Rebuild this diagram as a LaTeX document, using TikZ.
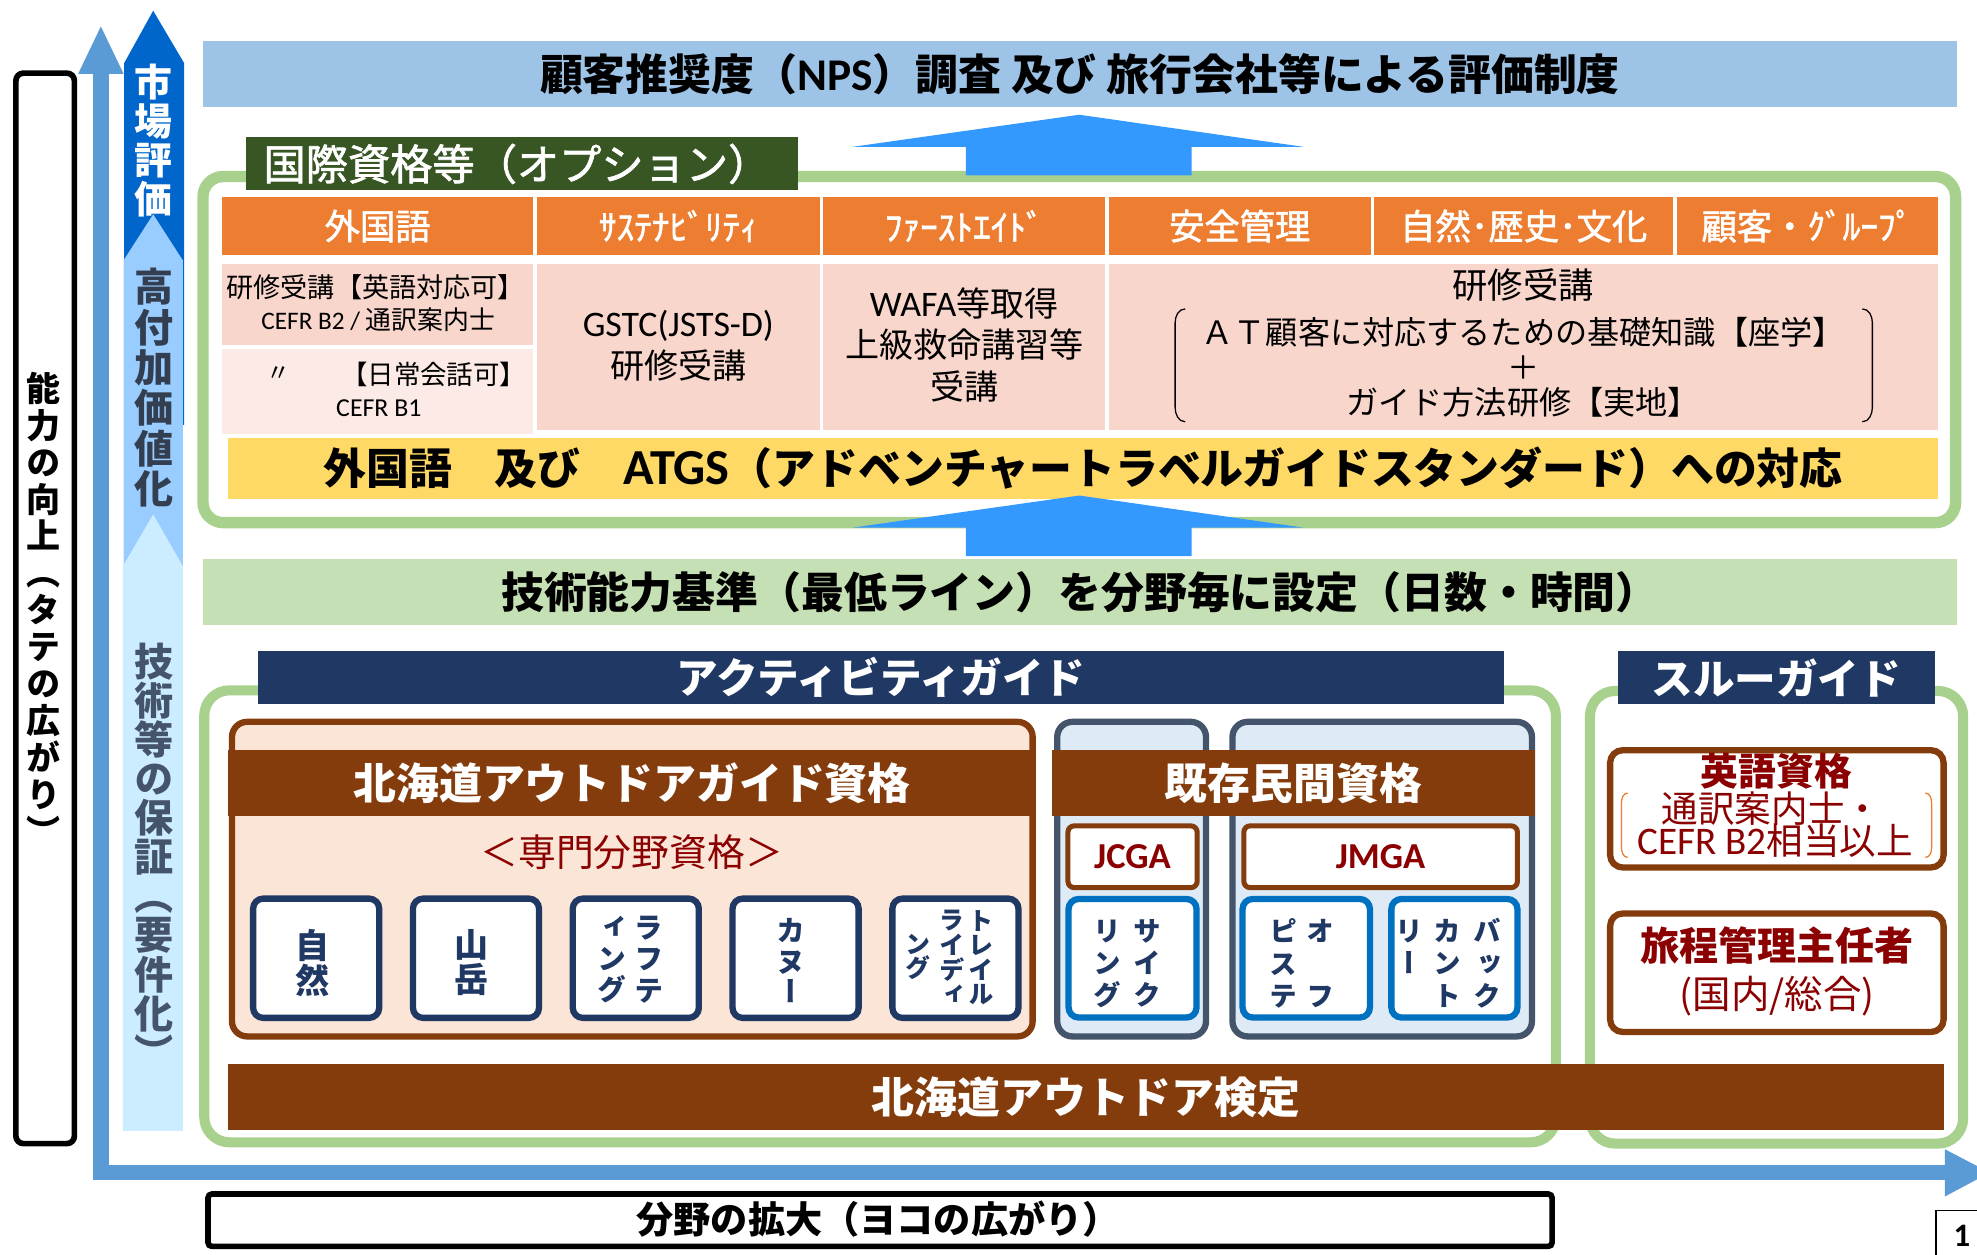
\documentclass[tikz,border=0pt]{standalone}
\usepackage{fontspec}
\setmainfont{Noto Sans CJK JP}
\newfontfamily\jpv[RawFeature=+vert]{Noto Sans CJK JP}
\newfontfamily\jpm[FakeBold=1.6]{Noto Sans CJK JP}
\newfontfamily\lat{Carlito}
\lineskiplimit=-100pt
\newcommand\sz[2]{\fontsize{#1}{#2}\selectfont}
\newcommand\st{\rule[-0.12em]{0pt}{0.88em}}
\definecolor{titleblue}{HTML}{9DC3E6}
\definecolor{arrowblue}{HTML}{3399FF}
\definecolor{axisblue}{HTML}{5B9BD5}
\definecolor{gborder}{HTML}{A9D18E}
\definecolor{dgreen}{HTML}{375623}
\definecolor{orangeh}{HTML}{ED7D31}
\definecolor{pinkA}{HTML}{F8D6CC}
\definecolor{pinkB}{HTML}{FBEAE5}
\definecolor{yellowb}{HTML}{FFD966}
\definecolor{lgreen}{HTML}{C5E0B4}
\definecolor{navy}{HTML}{203864}
\definecolor{brownb}{HTML}{843C0C}
\definecolor{peach}{HTML}{FBE5D6}
\definecolor{pblue}{HTML}{DEEBF7}
\definecolor{slate}{HTML}{44546A}
\definecolor{boxblue}{HTML}{0070C0}
\definecolor{dred}{HTML}{8B0000}
\definecolor{mkblue}{HTML}{0066CC}
\definecolor{midblue}{HTML}{99CCFF}
\definecolor{paleblue}{HTML}{CCECFF}
\definecolor{vtext}{HTML}{333F50}
\tikzset{
  box/.style={inner sep=0pt, outer sep=0pt},
  cell/.style={box, draw=none, fill=#1},
  txt/.style={inner sep=0pt, outer sep=0pt, align=center},
  gbox/.style={box, draw=gborder, fill=white, rounded corners=#1},
  hcell/.style={cell=orangeh, minimum height=45.5pt, text=white, font=\jpm\sz{28}{28}},
  sbox/.style={box, draw=navy, fill=white, line width=5pt, rounded corners=8pt, minimum width=100pt, minimum height=94.6pt},
  cbox/.style={box, draw=boxblue, fill=white, line width=5pt, rounded corners=8pt, minimum height=94pt},
  stxt/.style 2 args={txt, text=navy, font=\jpv\bfseries\sz{#1}{#2}},
  labbox/.style={box, draw=brownb, fill=white, line width=4pt, rounded corners=5pt, minimum height=49pt, text=dred, font=\lat\bfseries\sz{29}{29}},
  thbox/.style={box, draw=brownb, fill=white, line width=5pt, rounded corners=10pt, minimum width=264.5pt},
  blockarrow/.style={fill=arrowblue},
}
\begin{document}
\begin{tikzpicture}[x=1pt,y=-1pt]
\useasboundingbox (0,0) rectangle (1568,995);
\fill[white] (0,0) rectangle (1568,995);

% left vertical caption box
\node[box, draw=black, line width=4.5pt, rounded corners=6pt, minimum width=46.4pt, minimum height=849pt] (vbox) at (35.8,482.5) {};
\node[txt, font=\jpv\bfseries\sz{27}{29.3}] (vtxt) at (34.5,484) {\st 能\\力\\の\\向\\上\\（\\タ\\テ\\の\\広\\が\\り\\）\st};

% axes
\draw[axisblue, line width=12.5pt, line join=miter] (80,58) -- (80,930) -- (1545,930);
\fill[axisblue] (62,58.5) -- (80,21) -- (98,58.5) -- cycle;
\fill[axisblue] (1542.5,911.5) -- (1578,930) -- (1542.5,949) -- cycle;

% stacked vertical arrows
\fill[mkblue] (98.5,50) -- (121.5,8.5) -- (146,50) -- (146,337) -- (98.5,337) -- cycle;
\fill[midblue] (98,206.5) -- (121.5,170) -- (145,206.5) -- (145,460) -- (98,460) -- cycle;
\fill[paleblue] (97.5,449) -- (121.5,408) -- (145,449) -- (145,897) -- (97.5,897) -- cycle;
\node[txt, text=white, font=\jpv\bfseries\sz{30}{31}] (mkt) at (122,112) {\st 市\\場\\評\\価\st};
\node[txt, text=vtext, font=\jpv\bfseries\sz{31}{32}] (hva) at (122,308) {\st 高\\付\\加\\価\\値\\化\st};
\node[txt, text=slate, font=\jpv\bfseries\sz{31}{31}] (gua) at (122,680) {\st 技\\術\\等\\の\\保\\証\\（\\要\\件\\化\\）\st};

% title bar
\node[cell=titleblue, minimum width=1391pt, minimum height=52.5pt, font=\bfseries\sz{34}{34}] (title) at (856.5,58.75) {顧客推奨度（{\lat\sz{36}{36}NPS}）調査 及び 旅行会社等による評価制度};

% option box
\node[gbox=16pt, line width=9pt, minimum width=1390pt, minimum height=274.5pt] (optbox) at (856,277.25) {};
\node[cell=dgreen, minimum width=438pt, minimum height=42.5pt] (optlab) at (414,129.75) {};
\node[txt, anchor=west, text=white, font=\jpm\sz{33.5}{33.5}] (optlabt) at (209,130) {国際資格等（オプション）};

% header cells
\node[hcell, minimum width=247pt] (h1) at (299.5,179.25) {外国語};
\node[hcell, minimum width=224pt] (h2) at (538,179.25) {ｻｽﾃﾅﾋﾞﾘﾃｨ};
\node[hcell, minimum width=223.5pt] (h3) at (764.75,179.25) {ﾌｧｰｽﾄｴｲﾄﾞ};
\node[hcell, minimum width=207.5pt] (h4) at (983.25,179.25) {安全管理};
\node[hcell, minimum width=237pt] (h5) at (1208.5,179.25) {自然･歴史･文化};
\node[hcell, minimum width=207pt] (h6) at (1433.5,179.25) {顧客・ｸﾞﾙｰﾌﾟ};

% body cells
\node[cell=pinkA, minimum width=247pt, minimum height=65pt] (p1a) at (299.5,241.5) {};
\node[cell=pinkB, minimum width=247pt, minimum height=67.5pt] (p1b) at (299.5,310.25) {};
\node[cell=pinkA, minimum width=224pt, minimum height=132pt] (p2) at (538,275) {};
\node[cell=pinkA, minimum width=223.5pt, minimum height=132pt] (p3) at (764.75,275) {};
\node[cell=pinkA, minimum width=657.5pt, minimum height=132pt] (p4) at (1208.25,275) {};

\node[txt, font=\sz{21.5}{21.5}] (t1a) at (298,227.5) {研修受講【英語対応可】};
\node[txt, font=\sz{20.5}{20.5}] (t1b) at (300,253.5) {{\lat\sz{20}{20}CEFR B2 / }通訳案内士};
\node[txt, font=\sz{19}{19}] (t1c) at (221,297) {〃};
\node[txt, font=\sz{21}{21}] (t1d) at (344,297) {【日常会話可】};
\node[txt, font=\lat\sz{20.5}{20.5}] (t1e) at (300.5,324) {CEFR B1};
\node[txt, font=\sz{27}{33.3}] (t2) at (538,274.5) {{\lat\sz{28.5}{33.3}GSTC(JSTS-D)}\\研修受講};
\node[txt, font=\sz{27}{33}] (t3) at (764.75,273.5) {{\lat\sz{28.5}{33}WAFA}等取得\\上級救命講習等\\受講};
\node[txt, font=\sz{28}{28}] (t4a) at (1208,226.5) {研修受講};
\node[txt, font=\sz{25.5}{27.8}] (t4b) at (1208,291) {ＡＴ顧客に対応するための基礎知識【座学】\\＋\\ガイド方法研修【実地】};
\draw[line width=1pt] (940,245) to[out=180,in=90] (932,256) -- (932,323) to[out=-90,in=180] (940,334.5);
\draw[line width=1pt] (1477,245) to[out=0,in=90] (1485,256) -- (1485,323) to[out=-90,in=0] (1477,334.5);

% yellow bar
\node[cell=yellowb, minimum width=1356pt, minimum height=49pt, font=\bfseries\sz{34}{34}] (ybar) at (859,371.5) {外国語　及び　{\lat\sz{40}{40}ATGS}（アドベンチャートラベルガイドスタンダード）への対応};

% block arrows
\fill[blockarrow] (766,139) -- (766,116.5) -- (676,116.5) -- (856,91) -- (1034,116.5) -- (945,116.5) -- (945,139) -- cycle;
\fill[blockarrow] (766,441) -- (766,418.5) -- (676,418.5) -- (856,393) -- (1034,418.5) -- (945,418.5) -- (945,441) -- cycle;

% standard bar
\node[cell=lgreen, minimum width=1391pt, minimum height=52pt, font=\bfseries\sz{34}{34}] (lbar) at (856.5,469.5) {技術能力基準（最低ライン）を分野毎に設定（日数・時間）};

% bottom containers
\node[gbox=20pt, line width=8pt, minimum width=1072pt, minimum height=358.5pt] (actbox) at (698,726.75) {};
\node[gbox=20pt, line width=8pt, minimum width=296pt, minimum height=359pt] (thrbox) at (1409,727.5) {};
\node[cell=navy, minimum width=987.6pt, minimum height=42pt, text=white, font=\bfseries\sz{33}{33}] (actlab) at (698.8,537.5) {アクティビティガイド};
\node[cell=navy, minimum width=251.5pt, minimum height=42pt, text=white, font=\bfseries\sz{33}{33}] (thrlab) at (1408.75,537.5) {スルーガイド};

\node[box, draw=brownb, fill=peach, line width=5pt, rounded corners=12pt, minimum width=635pt, minimum height=249.5pt] (hgbox) at (501.5,697.25) {};
\node[box, draw=slate, fill=pblue, line width=5pt, rounded corners=12pt, minimum width=118pt, minimum height=249.5pt] (jcbox) at (897.5,697.25) {};
\node[box, draw=slate, fill=pblue, line width=5pt, rounded corners=12pt, minimum width=237.5pt, minimum height=249.5pt] (jmbox) at (1096.25,697.25) {};
\node[cell=brownb, minimum width=640.6pt, minimum height=52pt, text=white, font=\bfseries\sz{34}{34}] (hghead) at (501.3,621) {北海道アウトドアガイド資格};
\node[cell=brownb, minimum width=383.5pt, minimum height=52pt, text=white, font=\bfseries\sz{34}{34}] (exhead) at (1025.75,621) {既存民間資格};
\node[txt, text=dred, font=\sz{30}{30}] (senmon) at (501,676) {＜専門分野資格＞};

% specialist boxes
\node[sbox] (s1) at (250.75,760) {};
\node[sbox] (s2) at (377.5,760) {};
\node[sbox] (s3) at (504.25,760) {};
\node[sbox] (s4) at (631,760) {};
\node[sbox] (s5) at (757.75,760) {};
\node[stxt={27}{28}] (s1t) at (247.5,764) {\st 自\\然\st};
\node[stxt={27}{28}] (s2t) at (374,764) {\st 山\\岳\st};
\node[stxt={23}{25}] (s3r) at (515,761.5) {\st ラ\\フ\\テ\st};
\node[stxt={23}{25}] (s3l) at (485,761.5) {\st ィ\\ン\\グ\st};
\node[stxt={23}{24}] (s4t) at (627,763.3) {\st カ\\ヌ\\ー\st};
\node[stxt={20}{19.5}] (s5r) at (778.5,760.25) {\st ト\\レ\\イ\\ル\st};
\node[stxt={20}{19.5}] (s5m) at (755,760.25) {\st ラ\\イ\\デ\\ィ\st};
\node[stxt={20}{19.5}] (s5l) at (728,759.5) {\st ン\\グ\st};

% private qualification boxes
\node[labbox, minimum width=102.5pt] (jcga) at (898.25,679.5) {JCGA};
\node[labbox, minimum width=217pt] (jmga) at (1095,679.5) {JMGA};
\node[cbox, minimum width=101.5pt] (cyc) at (898.25,760) {};
\node[cbox, minimum width=101pt] (opi) at (1036,760) {};
\node[cbox, minimum width=100pt] (bcn) at (1153.5,760) {};
\node[stxt={22}{25.5}] (cycr) at (910,764.7) {\st サ\\イ\\ク\st};
\node[stxt={22}{25.5}] (cycl) at (878,764.7) {\st リ\\ン\\グ\st};
\node[stxt={22}{25.75}] (opir) at (1047,764.8) {\st オ\\\mbox{}\\フ\st};
\node[stxt={22}{25.75}] (opil) at (1017.5,764.8) {\st ピ\\ス\\テ\st};
\node[stxt={22}{25.75}] (bcnr) at (1180,764.8) {\st バ\\ッ\\ク\st};
\node[stxt={22}{25.75}] (bcnm) at (1148,764.8) {\st カ\\ン\\ト\st};
\node[stxt={22}{25.75}] (bcnl) at (1118,752) {\st リ\\ー\st};

% kentei bar
\node[cell=brownb, minimum width=1360.8pt, minimum height=52pt, text=white, font=\bfseries\sz{34}{34}] (kentei) at (861.4,870.25) {北海道アウトドア検定};

% through-guide boxes
\node[thbox, minimum height=93pt] (eibox) at (1409.25,641.5) {};
\node[txt, text=dred, font=\bfseries\sz{30}{30}] (eit1) at (1409,612) {英語資格};
\node[txt, text=dred, font=\sz{29}{29}] (eit2) at (1405,641) {通訳案内士・};
\node[txt, text=dred, font=\sz{29}{29}] (eit3) at (1408,667) {{\lat\sz{31}{31}CEFR B2}相当以上};
\draw[orangeh, line width=1pt] (1291,629) to[out=180,in=90] (1286,637) -- (1286,672) to[out=-90,in=180] (1291,680);
\draw[orangeh, line width=1pt] (1527,629) to[out=0,in=90] (1532,637) -- (1532,672) to[out=-90,in=0] (1527,680);
\node[thbox, minimum height=94pt] (ryobox) at (1409.25,771.5) {};
\node[txt, text=dred, font=\bfseries\sz{31}{31}] (ryo1) at (1409.5,750) {旅程管理主任者};
\node[txt, text=dred, font=\sz{30.5}{30.5}] (ryo2) at (1409.5,790) {(国内/総合)};

% horizontal caption
\node[box, draw=black, line width=4.5pt, rounded corners=3pt, minimum width=1066pt, minimum height=41.5pt] (hbox) at (698,967.75) {};
\node[txt, font=\bfseries\sz{29.5}{29.5}] (htxt) at (696.5,967) {分野の拡大（ヨコの広がり）};

% page number
\node[box, draw=black, line width=1.2pt, minimum width=50pt, minimum height=45pt, anchor=north west] (pgbox) at (1535.5,960) {};
\node[txt, font=\lat\bfseries\sz{26}{26}] (pg) at (1556,980) {1};
\end{tikzpicture}
\end{document}
